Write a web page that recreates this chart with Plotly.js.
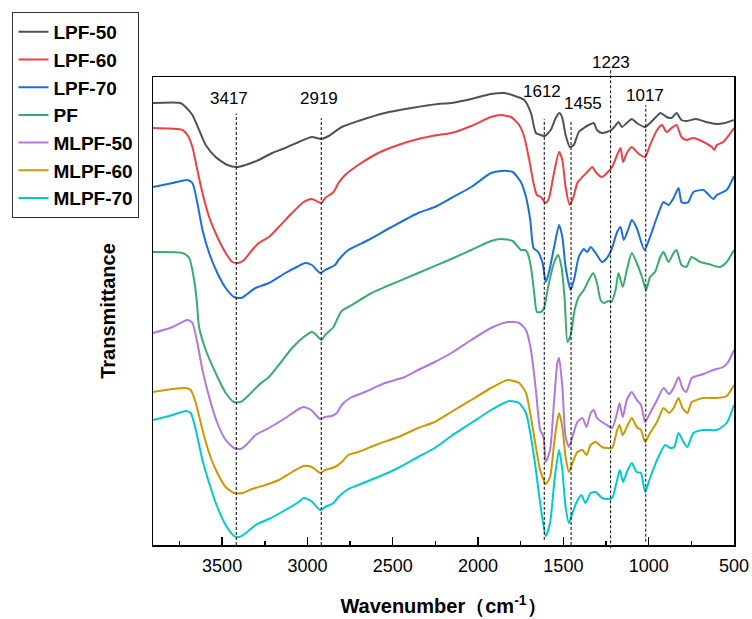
<!DOCTYPE html>
<html>
<head>
<meta charset="utf-8">
<script src="https://cdn.plot.ly/plotly-3.0.1.min.js"></script>
<style>
html,body{margin:0;padding:0;background:#fff;}
#chart{width:752px;height:619px;}
</style>
</head>
<body>
<div id="chart"></div>
<script>
// Wavenumber (cm-1) and transmittance (a.u., stacked)
const lpf50_wn = [3905,3744,3714,3674,3635,3596,3538,3469,3411,3363,3285,3207,3129,3051,2974,2919,2876,2799,2702,2546,2390,2235,2157,2040,1924,1846,1768,1729,1690,1661,1632,1609,1574,1545,1522,1506,1487,1462,1439,1410,1380,1351,1322,1303,1274,1245,1219,1192,1177,1157,1128,1099,1070,1021,992,963,930,895,866,837,808,780,722,663,605,553,500];
const lpf50_t  = [442,442,438,430,415,400,388,380,378,380,385,392,397,403,408,406,409,418,424,432,437,441,442,446,451,452,448,445,432,412,410,409,415,427,432,427,410,398,400,413,417,420,422,415,412,413,415,420,423,418,422,426,422,418,422,427,432,428,427,432,425,424,426,423,421,422,425];

const lpf60_wn = [3905,3732,3703,3674,3645,3615,3576,3528,3479,3440,3405,3372,3324,3285,3226,3168,3090,3022,2974,2919,2896,2847,2818,2779,2702,2585,2468,2351,2235,2157,2040,1924,1866,1807,1759,1729,1700,1675,1655,1632,1603,1584,1555,1525,1506,1487,1463,1441,1418,1389,1360,1330,1311,1274,1245,1214,1185,1165,1150,1128,1099,1070,1049,1021,992,951,922,895,866,837,808,780,738,679,630,615,601,563,500];
const lpf60_t  = [417,415,410,398,375,352,328,308,292,283,282,285,295,302,308,318,332,343,346,342,347,353,362,370,380,392,400,406,410,412,419,428,430,428,420,408,385,362,350,348,342,347,372,393,385,358,340,348,362,368,373,378,373,368,372,378,390,397,383,392,398,393,390,388,400,415,420,413,417,420,408,405,407,403,398,395,400,403,417];

const lpf70_wn = [3905,3790,3703,3674,3645,3615,3576,3528,3479,3430,3386,3353,3304,3226,3129,3051,3013,2974,2925,2896,2838,2818,2760,2643,2507,2351,2254,2157,2040,1924,1866,1797,1749,1719,1694,1675,1648,1622,1603,1584,1554,1525,1506,1487,1457,1434,1410,1380,1360,1340,1311,1274,1245,1219,1185,1165,1146,1117,1099,1070,1025,992,951,913,884,854,825,808,786,767,738,679,621,601,543,500];
const lpf70_t  = [358,362,365,362,342,315,292,272,257,248,247,251,257,262,272,279,282,280,272,275,280,285,295,305,318,332,338,347,358,372,374,373,363,348,325,297,293,282,263,273,298,320,308,278,255,268,288,296,293,298,292,283,287,295,313,318,305,317,325,317,295,308,328,343,340,347,357,343,342,343,353,355,346,350,355,369];

const pf_wn = [3905,3732,3693,3664,3649,3635,3596,3538,3479,3430,3392,3343,3285,3226,3159,3090,3022,2974,2954,2919,2896,2847,2828,2799,2740,2624,2546,2351,2157,2040,1924,1866,1797,1749,1725,1710,1690,1671,1655,1632,1613,1593,1555,1531,1511,1492,1476,1457,1434,1410,1380,1351,1325,1303,1282,1263,1234,1219,1194,1177,1152,1128,1099,1070,1039,1015,992,963,932,913,884,854,837,808,780,749,699,650,582,543,500];
const pf_t  = [293,292,287,265,245,218,195,172,152,143,143,150,160,168,182,197,208,213,211,205,210,218,225,234,240,252,258,272,286,295,304,306,304,295,295,292,278,252,233,233,237,255,282,290,278,245,203,210,235,248,255,265,272,262,245,242,244,243,255,272,258,275,292,282,268,255,268,273,288,293,283,292,295,280,278,288,283,281,278,283,295];

const mlpf50_wn = [3905,3790,3703,3674,3645,3615,3576,3528,3479,3430,3392,3353,3304,3226,3129,3051,3022,2978,2925,2896,2857,2828,2799,2750,2663,2546,2429,2351,2254,2157,2040,1924,1826,1759,1719,1690,1661,1636,1616,1603,1578,1554,1535,1525,1506,1487,1467,1447,1418,1389,1364,1340,1322,1303,1274,1245,1214,1185,1171,1152,1128,1099,1070,1045,1021,992,951,913,880,854,825,802,780,747,679,621,563,534,500];
const mlpf50_t  = [212,218,225,222,202,175,148,122,105,97,96,101,110,117,127,136,138,135,126,128,129,132,140,147,153,162,168,175,183,192,205,217,223,222,215,195,155,115,108,83,95,145,182,187,158,108,98,108,123,127,118,132,135,127,123,120,117,132,142,128,145,153,145,140,123,132,145,157,151,157,168,157,153,167,171,175,178,183,195];

const mlpf60_wn = [3905,3790,3713,3684,3654,3615,3576,3528,3479,3430,3382,3324,3246,3168,3090,3022,2974,2925,2896,2838,2799,2760,2702,2585,2468,2351,2254,2157,2040,1924,1826,1759,1719,1690,1661,1636,1603,1578,1554,1535,1525,1506,1487,1467,1447,1418,1389,1364,1340,1311,1274,1245,1214,1185,1171,1152,1128,1099,1070,1045,1021,992,951,913,880,854,825,802,773,747,679,601,543,500];
const mlpf60_t  = [153,156,157,155,142,115,92,72,58,52,52,56,60,65,73,79,78,72,75,78,83,90,93,101,108,117,123,133,145,157,165,162,152,128,98,75,61,68,102,125,132,118,88,73,82,93,95,90,100,103,98,97,97,115,120,110,118,127,118,115,103,112,123,137,132,137,147,137,132,143,147,147,149,160];

const mlpf70_wn = [3905,3790,3713,3684,3654,3615,3576,3528,3479,3430,3398,3353,3304,3226,3129,3051,3022,2978,2925,2896,2847,2818,2760,2702,2585,2468,2351,2254,2157,2040,1924,1817,1759,1719,1690,1661,1636,1603,1578,1550,1525,1506,1487,1467,1447,1422,1395,1370,1340,1311,1274,1245,1214,1185,1169,1150,1128,1099,1070,1045,1021,992,951,903,874,850,825,796,773,738,679,601,543,500];
const mlpf70_t  = [125,130,134,132,115,85,62,38,20,9,8,13,20,26,35,43,47,44,35,38,42,48,56,60,68,77,88,97,109,122,135,144,142,132,108,75,42,9,22,68,95,75,38,22,32,43,50,42,52,53,47,46,47,65,75,63,73,82,73,72,53,67,85,100,97,98,112,103,98,112,115,115,122,140];

const seriesNames = ["LPF-50","LPF-60","LPF-70","PF","MLPF-50","MLPF-60","MLPF-70"];
const seriesColors = ["#515151","#F14040","#1A6FDF","#37AD6B","#B177DE","#CC9900","#00CBCC"];
const seriesWn = [lpf50_wn,lpf60_wn,lpf70_wn,pf_wn,mlpf50_wn,mlpf60_wn,mlpf70_wn];
const seriesT  = [lpf50_t,lpf60_t,lpf70_t,pf_t,mlpf50_t,mlpf60_t,mlpf70_t];

// marked peaks
const peakWn = [3417, 2919, 1612, 1455, 1223, 1017];
const peakLabels = ["3417","2919","1612","1455","1223","1017"];

const FONT = "Arial, 'Liberation Sans', sans-serif";

const traces = seriesNames.map((n,i)=>({
  type:'scatter', mode:'lines', name:n,
  x: seriesWn[i], y: seriesT[i],
  line:{color:seriesColors[i], width:2, shape:'spline', smoothing:0.6},
  hoverinfo:'skip'
}));

// dashed marker lines (paper y-extent) and label placement
const lineTop  = [0.922,0.912,0.910,0.908,1.019,0.940];
const lineBot  = [0.0,0.0,0.011,0.0,-0.007,0.007];
const labelX   = [3461,2933,1626,1384,1221,1019];
const labelY   = [0.955,0.955,0.970,0.944,1.031,0.960];

const shapes = peakWn.map((w,i)=>({
  type:'line', xref:'x', yref:'paper', x0:w, x1:w, y0:lineBot[i], y1:lineTop[i],
  line:{color:'#000', width:1, dash:'3px,2px'}
}));
const annotations = peakLabels.map((t,i)=>({
  text:t, xref:'x', yref:'paper', x:labelX[i], y:labelY[i],
  showarrow:false, xanchor:'center', yanchor:'middle',
  font:{family:FONT, size:17, color:'#000'}
}));

const layout = {
  width:752, height:619,
  margin:{l:151, r:18, t:77, b:74, pad:0},
  paper_bgcolor:'#fff', plot_bgcolor:'#fff',
  showlegend:true,
  legend:{
    x:-0.2419, y:1.139, xanchor:'left', yanchor:'top',
    bgcolor:'#fff', bordercolor:'#333', borderwidth:1,
    font:{family:FONT, size:19, color:'#000', weight:'bold'},
    tracegroupgap:0
  },
  xaxis:{
    range:[3905,500], tick0:500, dtick:500,
    ticks:'inside', ticklen:8, tickwidth:1.5, tickcolor:'#000',
    minor:{ticks:'inside', ticklen:4, tickwidth:1.5, tickcolor:'#000', dtick:250, tick0:500},
    showline:true, linecolor:'#000', linewidth:1.5, mirror:true,
    showgrid:false, zeroline:false,
    ticklabelstandoff:4,
    tickfont:{family:FONT, size:18, color:'#000'},
    title:{text:'<b>Wavenumber（cm<sup>-1</sup>）</b>', font:{family:FONT, size:20, color:'#000'}, standoff:24}
  },
  yaxis:{
    range:[0,468], showticklabels:false, ticks:'',
    showline:true, linecolor:'#000', linewidth:1.5, mirror:true,
    showgrid:false, zeroline:false,
    title:{text:'<b>Transmittance</b>', font:{family:FONT, size:20, color:'#000'}, standoff:30}
  },
  shapes:shapes,
  annotations:annotations
};

Plotly.newPlot('chart', traces, layout, {staticPlot:true, displayModeBar:false});
</script>
</body>
</html>
